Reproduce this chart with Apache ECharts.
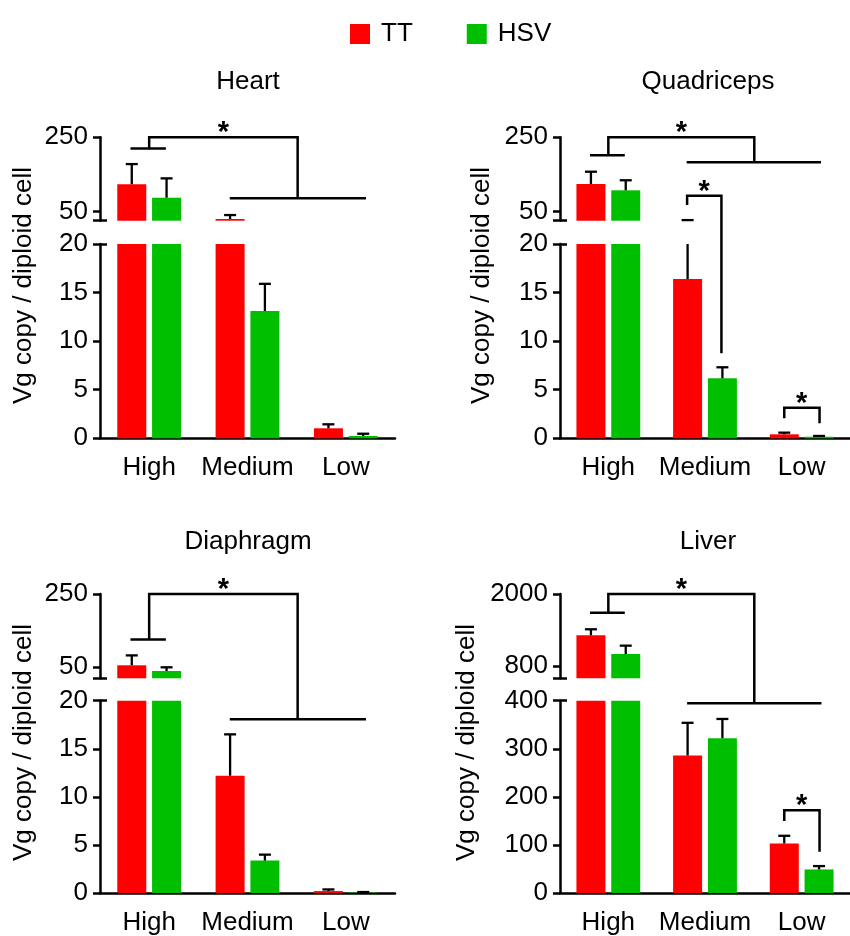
<!DOCTYPE html>
<html><head><meta charset="utf-8">
<script src="https://cdn.jsdelivr.net/npm/echarts@6/dist/echarts.min.js"></script>
<style>html,body{margin:0;padding:0;background:#fff}#c{width:850px;height:936px}</style>
</head><body><div id="c"></div>
<script>
// ---------- data ----------
const categories = ['High', 'Medium', 'Low'];
const seriesNames = ['TT', 'HSV'];
const panelTitles = ['Heart', 'Quadriceps', 'Diaphragm', 'Liver'];
const yAxisTitle = 'Vg copy / diploid cell';

const heartTT = [124, 30.4, 1.03];
const heartTTErr = [54, 10.6, 0.41];
const heartHSV = [87.6, 13.1, 0.24];
const heartHSVErr = [52, 2.8, 0.23];

const quadTT = [124.5, 16.4, 0.41];
const quadTTErr = [33, 11, 0.17];
const quadHSV = [107.5, 6.18, 0.16];
const quadHSVErr = [27, 1.13, 0.08];

const diaTT = [55.5, 12.2, 0.2];
const diaTTErr = [27, 4.3, 0.17];
const diaHSV = [40, 3.37, 0.05];
const diaHSVErr = [10, 0.62, 0.05];

const liverTT = [1312, 286, 103];
const liverTTErr = [100, 68, 16];
const liverHSV = [1000, 322, 49];
const liverHSVErr = [139, 40, 7];

// broken axis: upper segment and lower segment
const upperMin = [25.8, 25.8, 20, 595];
const upperMax = [250, 250, 250, 2000];
const upperTickLabels = [[50, 250], [50, 250], [50, 250], [800, 2000]];
const lowerMax = [20, 20, 20, 400];
const lowerStep = [5, 5, 5, 100];

// significance brackets: points [categoryPosition, value, segment('u' upper / 'l' lower)]
const heartBrackets = [
  [[-0.19, 220, 'u'], [0.17, 220, 'u']],
  [[0, 220, 'u'], [0, 250, 'u'], [1.51, 250, 'u'], [1.51, 86, 'u']],
  [[0.82, 86, 'u'], [2.205, 86, 'u']]
];
const heartStars = [[0.755, 250, 'u']];
const quadBrackets = [
  [[-0.19, 202, 'u'], [0.17, 202, 'u']],
  [[0, 202, 'u'], [0, 250, 'u'], [1.51, 250, 'u'], [1.51, 183, 'u']],
  [[0.81, 183, 'u'], [2.2, 183, 'u']],
  [[0.815, 68, 'u'], [0.815, 93, 'u'], [1.17, 93, 'u'], [1.17, 8.75, 'l']],
  [[1.82, 2.06, 'l'], [1.82, 3.15, 'l'], [2.185, 3.15, 'l'], [2.185, 1.54, 'l']]
];
const quadStars = [[0.755, 250, 'u'], [0.99, 93, 'u'], [2.0, 3.15, 'l']];
const diaBrackets = [
  [[-0.19, 126, 'u'], [0.17, 126, 'u']],
  [[0, 126, 'u'], [0, 250, 'u'], [1.51, 250, 'u'], [1.51, 18.08, 'l']],
  [[0.82, 18.08, 'l'], [2.205, 18.08, 'l']]
];
const diaStars = [[0.755, 250, 'u']];
const liverBrackets = [
  [[-0.19, 1688, 'u'], [0.17, 1688, 'u']],
  [[0, 1688, 'u'], [0, 2000, 'u'], [1.51, 2000, 'u'], [1.51, 394.6, 'l']],
  [[0.815, 394.6, 'l'], [2.205, 394.6, 'l']],
  [[1.82, 150, 'l'], [1.82, 172, 'l'], [2.185, 172, 'l'], [2.185, 86, 'l']]
];
const liverStars = [[0.755, 2000, 'u'], [2.0, 172, 'l']];

// ---------- styling / layout ----------
const FONT = "'Liberation Sans', Arial, sans-serif";
const FS = 26;
const COLORS = ['#ff0000', '#00bf00'];
const BAR_W = 29, BAR_GAP = 0.2, CAP = 12, LW = 2.5, ELW = 2.3;
const OFF = BAR_W * (1 + BAR_GAP) / 2;
const LAYOUT = [
  { left: 100, width: 295, upTop: 137.3, upH: 83.4, loTop: 244, loH: 194.3, title: [248, 82], yname: [24, 285.5] },
  { left: 560, width: 295, upTop: 137.3, upH: 83.4, loTop: 244, loH: 194.3, title: [708, 82], yname: [482, 285.5] },
  { left: 100, width: 295, upTop: 594, upH: 84.3, loTop: 700.7, loH: 193.6, title: [248, 542], yname: [24, 742.5] },
  { left: 560, width: 295, upTop: 594, upH: 84.3, loTop: 700.7, loH: 193.6, title: [708, 542], yname: [467, 742.5] }
];

const panels = [
  { vals: [heartTT, heartHSV], errs: [heartTTErr, heartHSVErr], brackets: heartBrackets, stars: heartStars },
  { vals: [quadTT, quadHSV], errs: [quadTTErr, quadHSVErr], brackets: quadBrackets, stars: quadStars },
  { vals: [diaTT, diaHSV], errs: [diaTTErr, diaHSVErr], brackets: diaBrackets, stars: diaStars },
  { vals: [liverTT, liverHSV], errs: [liverTTErr, liverHSVErr], brackets: liverBrackets, stars: liverStars }
];

function errRender(lo, hi, sign) {
  return function (params, api) {
    const i = api.value(0), v = api.value(1), e = api.value(2);
    const top = v + e;
    const a = Math.max(v, lo), b = Math.min(top, hi);
    if (b <= a) return null;
    const x = api.coord([i, lo])[0] + sign * OFF;
    const y1 = api.coord([i, a])[1], y2 = api.coord([i, b])[1];
    const children = [{ type: 'line', shape: { x1: x, y1: y1, x2: x, y2: y2 }, style: { stroke: '#000', lineWidth: ELW } }];
    if (top <= hi) {
      children.push({ type: 'line', shape: { x1: x - CAP / 2, y1: y2, x2: x + CAP / 2, y2: y2 }, style: { stroke: '#000', lineWidth: ELW } });
    }
    return { type: 'group', children: children };
  };
}

const grid = [], xAxis = [], yAxis = [], series = [];
panels.forEach(function (p, k) {
  const L = LAYOUT[k];
  grid.push({ left: L.left, top: L.upTop, width: L.width, height: L.upH });
  grid.push({ left: L.left, top: L.loTop, width: L.width, height: L.loH });
  const gU = 2 * k, gL = 2 * k + 1;
  // xAxes: 3k upper category, 3k+1 lower category, 3k+2 helper value axis
  xAxis.push({ type: 'category', gridIndex: gU, data: categories, show: false, axisLine: { onZero: false } });
  xAxis.push({
    type: 'category', gridIndex: gL, data: categories,
    axisLine: { onZero: false, lineStyle: { color: '#000', width: LW } },
    axisTick: { alignWithLabel: true, length: 8, lineStyle: { color: '#000', width: LW } },
    axisLabel: { color: '#000', fontSize: FS, fontFamily: FONT, margin: 17, interval: 0, hideOverlap: false }
  });
  xAxis.push({ type: 'value', gridIndex: gL, min: -0.5, max: 2.5, show: false, axisLine: { onZero: false } });
  // yAxes: 4k upper main, 4k+1 upper break, 4k+2 lower main, 4k+3 lower break
  const lab = { color: '#000', fontSize: FS, fontFamily: FONT, margin: 12, formatter: function (v) { return String(v); } };
  yAxis.push({
    type: 'value', gridIndex: gU, position: 'left', min: upperMin[k], max: upperMax[k],
    axisLine: { show: true, onZero: false, lineStyle: { color: '#000', width: LW } },
    axisTick: { show: true, length: 7, customValues: [upperMin[k]].concat(upperTickLabels[k]), lineStyle: { color: '#000', width: LW } },
    axisLabel: Object.assign({ customValues: upperTickLabels[k] }, lab),
    splitLine: { show: false }
  });
  yAxis.push({
    type: 'value', gridIndex: gU, position: 'left', min: upperMin[k], max: upperMax[k],
    axisLine: { show: false, onZero: false },
    axisTick: { show: true, inside: true, length: 7, customValues: [upperMin[k]], lineStyle: { color: '#000', width: LW } },
    axisLabel: { show: false }, splitLine: { show: false }
  });
  yAxis.push({
    type: 'value', gridIndex: gL, position: 'left', min: 0, max: lowerMax[k], interval: lowerStep[k],
    axisLine: { show: true, onZero: false, lineStyle: { color: '#000', width: LW } },
    axisTick: { show: true, length: 7, lineStyle: { color: '#000', width: LW } },
    axisLabel: lab,
    splitLine: { show: false }
  });
  yAxis.push({
    type: 'value', gridIndex: gL, position: 'left', min: 0, max: lowerMax[k],
    axisLine: { show: false, onZero: false },
    axisTick: { show: true, inside: true, length: 7, customValues: [lowerMax[k]], lineStyle: { color: '#000', width: LW } },
    axisLabel: { show: false }, splitLine: { show: false }
  });
  [0, 1].forEach(function (s) {
    [[3 * k, 4 * k], [3 * k + 1, 4 * k + 2]].forEach(function (seg) {
      series.push({
        type: 'bar', name: seriesNames[s], xAxisIndex: seg[0], yAxisIndex: seg[1],
        data: p.vals[s], barWidth: BAR_W, barGap: (BAR_GAP * 100) + '%', clip: true,
        itemStyle: { color: COLORS[s] }, silent: true, animation: false
      });
    });
  });
  [0, 1].forEach(function (s) {
    [[3 * k, 4 * k, upperMin[k], upperMax[k]], [3 * k + 1, 4 * k + 2, 0, lowerMax[k]]].forEach(function (seg) {
      series.push({
        type: 'custom', name: 'err' + seriesNames[s], xAxisIndex: seg[0], yAxisIndex: seg[1],
        data: p.vals[s].map(function (v, i) { return [i, v, p.errs[s][i]]; }),
        renderItem: errRender(seg[2], seg[3], s === 0 ? -1 : 1),
        encode: { x: 0, y: 1 }, silent: true, z: 5, animation: false
      });
    });
  });
});

const chart = echarts.init(document.getElementById('c'));
chart.setOption({
  animation: false,
  backgroundColor: '#fff',
  legend: {
    data: seriesNames, left: 345, top: 16, icon: 'rect', itemWidth: 20, itemHeight: 20, itemGap: 54,
    textStyle: { color: '#000', fontSize: FS, fontFamily: FONT, padding: [0, 0, 0, 6] },
    selectedMode: false
  },
  grid: grid, xAxis: xAxis, yAxis: yAxis, series: series
});

// ---------- annotations (brackets, stars, titles) ----------
function toPx(k, pt) {
  const x = chart.convertToPixel({ xAxisIndex: 3 * k + 2 }, pt[0]);
  const y = chart.convertToPixel({ yAxisIndex: pt[2] === 'u' ? 4 * k : 4 * k + 2 }, pt[1]);
  return [x, y];
}
const graphics = [];
panels.forEach(function (p, k) {
  const L = LAYOUT[k];
  graphics.push({
    type: 'text', x: L.title[0], y: L.title[1], silent: true,
    style: { text: panelTitles[k], fill: '#000', font: FS + 'px ' + FONT, textAlign: 'center', textVerticalAlign: 'middle' }
  });
  graphics.push({
    type: 'text', x: L.yname[0], y: L.yname[1], rotation: Math.PI / 2, silent: true,
    style: { text: yAxisTitle, fill: '#000', font: FS + 'px ' + FONT, textAlign: 'center', textVerticalAlign: 'middle' }
  });
  p.brackets.forEach(function (b) {
    graphics.push({
      type: 'polyline', silent: true, z: 10,
      shape: { points: b.map(function (pt) { return toPx(k, pt); }) },
      style: { stroke: '#000', lineWidth: LW, fill: null, lineJoin: 'miter' }
    });
  });
  p.stars.forEach(function (st) {
    const pos = toPx(k, st);
    graphics.push({
      type: 'text', x: pos[0], y: pos[1] - 4, silent: true, z: 10,
      style: { text: '*', fill: '#000', font: 'bold 29px ' + FONT, textAlign: 'center', textVerticalAlign: 'middle' }
    });
  });
});
chart.setOption({ graphic: graphics });
</script>
</body></html>
